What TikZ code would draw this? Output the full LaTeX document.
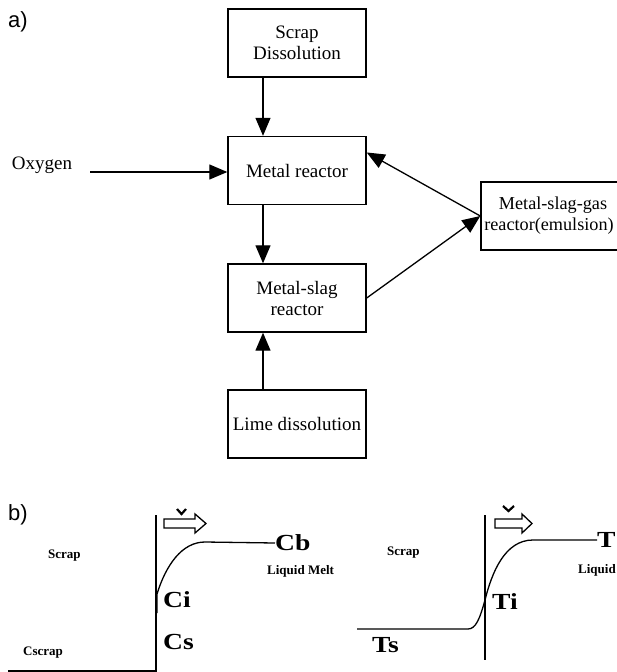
\documentclass[tikz,border=0pt]{standalone}
\usepackage{fontspec}
\usepackage{graphicx}
\setmainfont{Liberation Serif}
\newfontfamily\sansf{Liberation Sans}
\usetikzlibrary{arrows.meta,calc}
\begin{document}
\begin{tikzpicture}[x=1pt,y=-1pt,
 box/.style={draw,line width=1.4pt,minimum width=138pt,minimum height=68pt,inner sep=0pt,align=center,font=\fontsize{19}{21}\selectfont},
 arr/.style={line width=1.3pt,-{Triangle[length=18pt,width=15pt]}},
 big/.style={font=\fontsize{23}{24}\selectfont\bfseries,inner sep=0pt,anchor=west},
 small/.style={font=\fontsize{13}{14}\selectfont\bfseries,inner sep=0pt,anchor=west},
 curve/.style={line width=1.3pt},
 axis/.style={line width=1.5pt},
 hollow/.style={line width=1.3pt,line join=miter},
 vmark/.style={line width=2.2pt},
 panel/.style={font=\fontsize{22}{24}\selectfont\sansf,inner sep=0pt,anchor=west}]
\useasboundingbox (0,0) rectangle (617,672);
\clip (0,0) rectangle (617,672);
% ---------- a) ----------
\node[panel] (pa) at (8,22) {a)};
\node[box] (scrap) at (297,43) {Scrap\\Dissolution};
\node[box] (metal) at (297,170.5) {Metal reactor};
\node[box] (mslag) at (297,298) {Metal-slag\\reactor};
\node[box] (lime) at (297,424) {Lime dissolution};
\node[box,minimum width=144pt,font=\fontsize{18.2}{21}\selectfont] (emul) at (553,216) {Metal-slag-gas\\\hspace*{-4pt}reactor(emulsion)\hspace*{4pt}};
\node[font=\fontsize{19}{21}\selectfont,inner sep=0pt] (oxy) at (42,165) {Oxygen};
\coordinate (oxs) at (90,172);
\coordinate (vx) at (263,0);
\draw[arr] (oxs) -- (metal.west |- oxs);
\draw[arr] (scrap.south -| vx) -- (metal.north -| vx);
\draw[arr] (metal.south -| vx) -- (mslag.north -| vx);
\draw[arr] (lime.north -| vx) -- (mslag.south -| vx);
\draw[arr] (emul.west) -- ($(metal.north east)!0.24!(metal.south east)$);
\draw[arr] (mslag.east) -- (emul.west);
% ---------- b) ----------
\node[panel] (pb) at (8,515) {b)};
% left panel
\node[small] (scl) at (48,556) {Scrap};
\node[small] (cscr) at (23,653) {Cscrap};
\node[small] (lml) at (267,571) {Liquid Melt};
\node[big] (cb) at (275,543) {\scalebox{1.2}[1]{Cb}};
\node[big] (ci) at (163,600) {\scalebox{1.2}[1]{Ci}};
\node[big] (cs) at (163,642) {\scalebox{1.2}[1]{Cs}};
\coordinate (la) at (156,515);
\coordinate (lb) at (156,671);
\coordinate (lc) at (8,671);
\draw[axis] (la) -- (lb) -- (lc);
\draw[curve] (157,613) -- (157,594) .. controls (166,565) and (182,542) .. (205,542) -- (cb.west);
\draw[hollow] (164,519) -- (195,519) -- (195,514) -- (206,523.5) -- (195,533) -- (195,528) -- (164,528) -- cycle;
\draw[vmark] (177,509) -- (181.5,514) -- (186,509);
% right panel
\node[small] (scr) at (387,553) {Scrap};
\node[small] (lmr) at (578,570) {Liquid Melt};
\node[big] (tb) at (597,540) {\scalebox{1.2}[1]{T}};
\node[big] (ti) at (492,602) {\scalebox{1.2}[1]{Ti}};
\node[big] (ts) at (372,645) {\scalebox{1.2}[1]{Ts}};
\coordinate (ra) at (485,515);
\coordinate (rb) at (485,660);
\draw[axis] (ra) -- (rb);
\draw[curve] (357,629) -- (468,629) .. controls (476,629) and (480,618) .. (485,600) .. controls (492,572) and (505,540) .. (533,540) -- (tb.west);
\draw[hollow] (495,519) -- (522,519) -- (522,514) -- (532,523.5) -- (522,533) -- (522,528) -- (495,528) -- cycle;
\draw[vmark] (503,506) -- (508.5,511) -- (514,506);
\end{tikzpicture}
\end{document}
